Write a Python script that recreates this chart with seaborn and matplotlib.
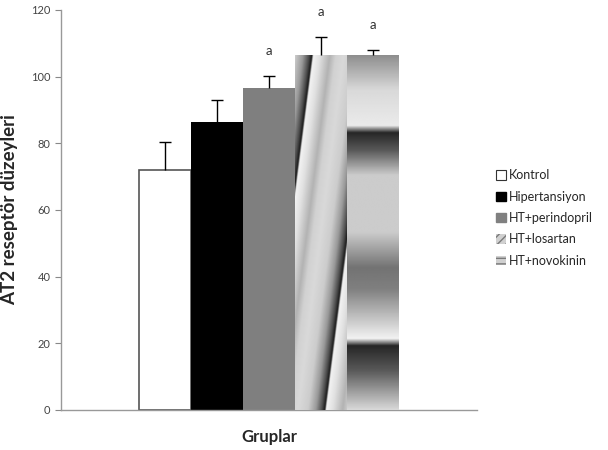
import numpy as np
import pandas as pd
import matplotlib
matplotlib.use('Agg')
import matplotlib.pyplot as plt
import seaborn as sns
from matplotlib.patches import Patch

groups = ['Kontrol', 'Hipertansiyon', 'HT+perindopril', 'HT+losartan', 'HT+novokinin']
values = [72, 86.4, 96.5, 106.5, 106.5]
errors = [8.3, 6.6, 3.6, 5.5, 1.6]
marks = ['', '', 'a', 'a', 'a']
y_ticks = [0, 20, 40, 60, 80, 100, 120]

sns.set_style('white')
plt.rcParams['font.family'] = ['Lato', 'DejaVu Sans']

df = pd.DataFrame({'grup': [''] * len(groups), 'kategori': groups, 'deger': values})

fig = plt.figure(figsize=(6.08, 4.5), dpi=100)
ax = fig.add_axes([0.1003, 0.0889, 0.6842, 0.8889])

colors = ['white', 'black', '#7f7f7f', '#b0b0b0', '#a8a8a8']
sns.barplot(data=df, x='grup', y='deger', hue='kategori', hue_order=groups,
            palette=dict(zip(groups, colors)), width=0.625, saturation=1,
            linewidth=0, legend=False, ax=ax)

bars = [p for p in ax.patches][:len(groups)]
bars[0].set_edgecolor('#555555')
bars[0].set_linewidth(1.2)

# gradient textures for the two last bars
ny, nx = 400, 120
yf = np.linspace(0, 1, ny)[:, None]
xf = np.linspace(0, 1, nx)[None, :]

# losartan: diagonal bands
u = np.mod(xf * 52 - 17 + 0.13 * yf * 355, 59)
tex_los = np.interp(u, [0, 1.5, 8, 18, 24, 32, 42, 50, 56, 59],
                    [0.1, 0.95, 0.88, 0.7, 0.82, 0.85, 0.8, 0.6, 0.3, 0.1])
# novokinin: horizontal bands
prof = np.interp(yf[:, 0], [0, 0.1, 0.2, 0.22, 0.27, 0.34, 0.5, 0.6, 0.66, 0.8, 0.82, 0.89, 1.0],
                 [0.55, 0.85, 0.92, 0.15, 0.35, 0.8, 0.8, 0.45, 0.5, 0.95, 0.15, 0.35, 0.85])
tex_novo = np.repeat(prof[:, None], nx, axis=1)

for bar, tex in [(bars[3], tex_los), (bars[4], tex_novo)]:
    x0 = bar.get_x()
    w = bar.get_width()
    h = bar.get_height()
    im = ax.imshow(tex, cmap='gray', vmin=0, vmax=1, aspect='auto',
                   extent=[x0, x0 + w, 0, h], origin='upper', zorder=3,
                   interpolation='bilinear')
    im.set_clip_path(bar)

ax.set_xlim(-0.5, 0.5)
ax.set_ylim(0, 120)

xs = [b.get_x() + b.get_width() / 2 for b in bars]
eb = ax.errorbar(xs, values, yerr=[np.zeros(len(errors)), errors], fmt='none',
                 ecolor='black', elinewidth=1, capsize=4, capthick=1, zorder=4)
eb[1][0].set_visible(False)  # alt cap yok

for x, v, e, m in zip(xs, values, errors, marks):
    if m:
        ax.text(x, v + e + 7.5, m, ha='center', va='center', fontsize=9.5,
                color='#333333', clip_on=False)

ax.set_yticks(y_ticks)
ax.set_xticks([])
ax.tick_params(axis='y', direction='out', length=4, width=0.8, color='#888888',
               labelsize=8, labelcolor='#444444', left=True)
for s in ['top', 'right']:
    ax.spines[s].set_visible(False)
for s in ['left', 'bottom']:
    ax.spines[s].set_color('#999999')
    ax.spines[s].set_linewidth(1)

ax.set_ylabel('AT2 reseptör düzeyleri', fontsize=13.5, fontweight='bold', labelpad=9)
ax.set_xlabel('Gruplar', fontsize=12, fontweight='bold', labelpad=14)

handles = [
    Patch(facecolor='white', edgecolor='#333333', linewidth=0.8),
    Patch(facecolor='black', edgecolor='black'),
    Patch(facecolor='#808080', edgecolor='#808080'),
    Patch(facecolor='#d0d0d0', edgecolor='#7a7a7a', hatch='////', linewidth=0),
    Patch(facecolor='#d0d0d0', edgecolor='#7a7a7a', hatch='---', linewidth=0),
]
fig.legend(handles, groups, loc='upper left', bbox_to_anchor=(0.808, 0.635),
           frameon=False, fontsize=9, handlelength=0.8, handleheight=0.8,
           handletextpad=0.2, labelspacing=0.75, borderaxespad=0)

fig.savefig('out.png', dpi=100)
